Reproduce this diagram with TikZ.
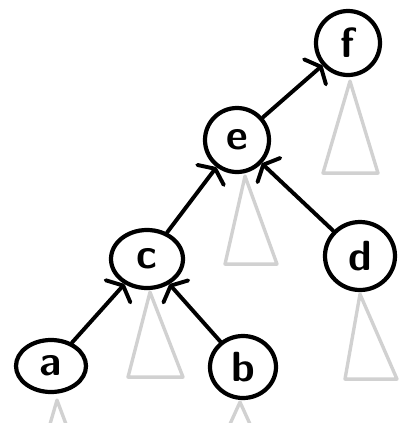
\documentclass[tikz,border=0pt]{standalone}
\usetikzlibrary{shapes.geometric,arrows.meta}
\definecolor{pencil}{gray}{0.82}
\tikzset{
  vert/.style={draw,ellipse,line width=3pt,inner sep=0pt,
    font=\sffamily\bfseries\fontsize{30}{30}\selectfont},
  edge/.style={line width=2.8pt,line cap=round,
    -{Straight Barb[angle=130:13pt,round]}},
  subtree/.style={draw=pencil,line width=2.4pt,line join=round}
}
\begin{document}
\begin{tikzpicture}[x=0.25mm,y=-0.25mm]
  \useasboundingbox (0,0) rectangle (406,423);
  % vertices
  \node[vert,minimum width=16mm,minimum height=16mm] (f) at (348,43) {f};
  \node[vert,minimum width=16mm,minimum height=16mm] (e) at (237,140) {e};
  \node[vert,minimum width=18mm,minimum height=14.5mm] (c) at (147,259) {c};
  \node[vert,minimum width=17.5mm,minimum height=17mm] (d) at (360,256) {d};
  \node[vert,minimum width=17.5mm,minimum height=13mm] (a) at (51,366) {a};
  \node[vert,minimum width=16.5mm,minimum height=15.5mm] (b) at (243,367) {b};
  % subtrees
  \draw[subtree] (f.south) ++(2,4) -- ++(-27,92) -- ++(55,0) -- cycle;
  \draw[subtree] (e.south) ++(8,2) -- ++(-20,88) -- ++(52,0) -- cycle;
  \draw[subtree] (c.south) ++(3,2) -- ++(-22,85) -- ++(55,0) -- cycle;
  \draw[subtree] (d.south) ++(0,2) -- ++(-15,85) -- ++(52,0) -- cycle;
  \draw[subtree] (a.south) ++(-1,30) -- ++(7,-24) -- ++(9,24);
  \draw[subtree] (b.south) ++(-13,24) -- ++(10,-22) -- ++(10,22);
  % edges
  \draw[edge] (a) -- (c);
  \draw[edge] (b) -- (c);
  \draw[edge] (c) -- (e);
  \draw[edge] (d) -- (e);
  \draw[edge] (e) -- (f);
\end{tikzpicture}
\end{document}
